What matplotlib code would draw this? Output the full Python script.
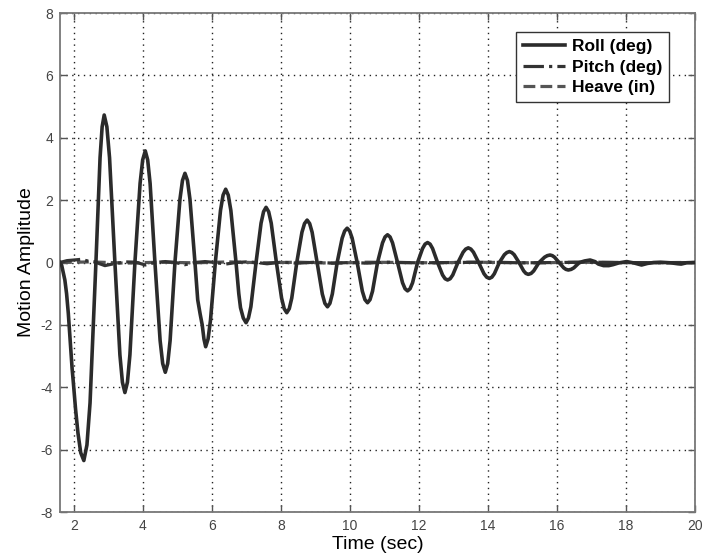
import matplotlib
matplotlib.use('Agg')
import matplotlib.pyplot as plt

plt.rcParams['font.family'] = ['Liberation Sans', 'DejaVu Sans']
plt.rcParams['axes.unicode_minus'] = False

# roll (deg)
roll_t = [1.60, 1.65, 1.70, 1.74, 1.79, 1.84, 1.90, 1.95, 1.98, 2.05, 2.12, 2.20, 2.29,
          2.38, 2.47, 2.64,
          2.76, 2.82, 2.88, 2.958, 3.035, 3.19,
          3.335, 3.408, 3.48, 3.553, 3.625, 3.77,
          3.92, 3.995, 4.07, 4.14, 4.21, 4.35,
          4.50, 4.575, 4.65, 4.72, 4.79, 4.93,
          5.075, 5.148, 5.22, 5.293, 5.365, 5.51,
          5.59, 5.66, 5.72, 5.77, 5.82, 5.89, 5.96, 6.10,
          6.25, 6.325, 6.40, 6.475, 6.55, 6.70,
          6.78, 6.83, 6.91, 6.99, 7.06, 7.13, 7.28,
          7.425, 7.498, 7.57, 7.645, 7.72, 7.87,
          8.02, 8.095, 8.17, 8.243, 8.315, 8.46,
          8.61, 8.685, 8.76, 8.833, 8.905, 9.05,
          9.20, 9.275, 9.35, 9.42, 9.49, 9.63,
          9.775, 9.848, 9.92, 9.993, 10.065, 10.21,
          10.36, 10.435, 10.51, 10.583, 10.655, 10.80,
          10.945, 11.018, 11.09, 11.163, 11.235, 11.38,
          11.525, 11.598, 11.67, 11.743, 11.815, 11.96,
          12.105, 12.178, 12.25, 12.323, 12.395, 12.54,
          12.685, 12.758, 12.83, 12.905, 12.98, 13.13,
          13.28, 13.355, 13.43, 13.505, 13.58, 13.73,
          13.885, 13.963, 14.04, 14.113, 14.185, 14.33,
          14.475, 14.548, 14.62, 14.69, 14.76, 14.90,
          15.035, 15.10, 15.17, 15.25, 15.325, 15.48,
          15.64, 15.72, 15.80, 15.865, 15.93, 16.06,
          16.195, 16.26, 16.33, 16.41, 16.49, 16.65,
          16.80, 16.96, 17.10, 17.20, 17.35, 17.50, 17.62, 17.80, 18.02, 18.25,
          18.45, 18.62, 18.80, 19.00, 19.30, 19.50, 19.60, 19.75, 20.00]
roll_v = [0.0, -0.10, -0.35, -0.56, -1.00, -1.63, -2.60, -3.40, -3.77, -4.70, -5.47, -6.10, -6.35,
          -5.85, -4.50, 0.0,
          3.36, 4.35, 4.73, 4.35, 3.36, 0.0,
          -2.96, -3.84, -4.17, -3.84, -2.96, 0.0,
          2.54, 3.29, 3.58, 3.29, 2.54, 0.0,
          -2.50, -3.24, -3.52, -3.24, -2.50, 0.0,
          2.03, 2.63, 2.86, 2.63, 2.03, 0.0,
          -1.20, -1.65, -2.00, -2.45, -2.70, -2.45, -1.85, 0.0,
          1.67, 2.16, 2.35, 2.16, 1.67, 0.0,
          -1.00, -1.45, -1.78, -1.93, -1.78, -1.42, 0.0,
          1.26, 1.63, 1.77, 1.63, 1.26, 0.0,
          -1.14, -1.48, -1.61, -1.48, -1.14, 0.0,
          0.97, 1.25, 1.36, 1.25, 0.97, 0.0,
          -1.01, -1.31, -1.42, -1.31, -1.01, 0.0,
          0.78, 1.01, 1.10, 1.01, 0.78, 0.0,
          -0.92, -1.19, -1.29, -1.19, -0.92, 0.0,
          0.63, 0.82, 0.89, 0.82, 0.63, 0.0,
          -0.65, -0.84, -0.91, -0.84, -0.65, 0.0,
          0.45, 0.59, 0.64, 0.59, 0.45, 0.0,
          -0.40, -0.52, -0.56, -0.52, -0.40, 0.0,
          0.33, 0.43, 0.47, 0.43, 0.33, 0.0,
          -0.36, -0.47, -0.51, -0.47, -0.36, 0.0,
          0.25, 0.32, 0.35, 0.32, 0.25, 0.0,
          -0.27, -0.35, -0.38, -0.35, -0.27, 0.0,
          0.17, 0.22, 0.24, 0.22, 0.17, 0.0,
          -0.17, -0.22, -0.24, -0.22, -0.17, 0.0,
          0.05, 0.08, 0.03, -0.05, -0.10, -0.10, -0.07, -0.01, 0.03, -0.02,
          -0.08, -0.03, 0.0, 0.01, -0.01, -0.04, -0.05, -0.01, 0.0]

# pitch (deg)
pitch_t = [1.6, 1.8, 2.0, 2.2, 2.4, 2.6, 2.9, 3.2, 3.5, 3.8, 4.07, 4.35, 4.65, 4.95, 5.22,
           5.5, 5.8, 6.1, 6.4, 6.7, 7.0, 7.3, 7.6, 8.0, 8.5, 9.0, 9.5, 10.0, 10.5, 11.0,
           11.5, 12.0, 13.0, 14.0, 15.0, 16.0, 17.0, 18.0, 19.0, 20.0]
pitch_v = [0.0, 0.06, 0.08, 0.10, 0.05, 0.02, -0.10, -0.03, 0.02, 0.01, -0.08, 0.0, 0.03, 0.0, -0.07,
           0.0, 0.03, 0.0, -0.05, 0.0, 0.02, 0.0, -0.04, 0.01, -0.02, 0.01, -0.02, 0.0, -0.02, 0.01,
           0.0, -0.01, 0.0, 0.01, -0.01, 0.0, 0.01, 0.0, -0.01, 0.0]

# heave (in)
heave_t = [1.6, 2.5, 3.5, 4.5, 5.5, 6.5, 7.5, 8.5, 9.5, 10.5, 11.5, 12.5, 13.5, 14.5,
           15.5, 16.5, 17.5, 18.5, 19.5, 20.0]
heave_v = [0.0, 0.02, -0.02, 0.01, -0.01, 0.02, -0.01, 0.01, -0.02, 0.01, 0.0, -0.01,
           0.01, 0.0, -0.01, 0.01, 0.0, -0.01, 0.0, 0.0]

fig = plt.figure(figsize=(7.18, 5.54), dpi=100)
ax = fig.add_axes([0.0836, 0.0758, 0.8844, 0.9007])

ax.plot(heave_t, heave_v, color='#555555', lw=2.3, ls='--', label='Heave (in)', zorder=3)
ax.plot(pitch_t, pitch_v, color='#333333', lw=2.3, ls='-.', label='Pitch (deg)', zorder=3)
ax.plot(roll_t, roll_v, color='#2b2b2b', lw=2.6, ls='-', label='Roll (deg)', zorder=4)

ax.set_xlim(1.6, 20)
ax.set_ylim(-8, 8)
ax.set_xticks(range(2, 21, 2))
ax.set_yticks(range(-8, 9, 2))
ax.grid(True, color='#222222', lw=1.0, dashes=(1.0, 3.2))
ax.tick_params(direction='in', top=True, right=True, length=5, width=1,
               labelsize=10, labelcolor='#444444', color='#555555', pad=5)
for s in ax.spines.values():
    s.set_color('#777777')
    s.set_linewidth(1.3)

ax.set_xlabel('Time (sec)', fontsize=14, labelpad=2)
ax.set_ylabel('Motion Amplitude', fontsize=14, labelpad=4)

h, l = ax.get_legend_handles_labels()
order = [2, 1, 0]
leg = ax.legend([h[i] for i in order], [l[i] for i in order],
                loc='upper right', bbox_to_anchor=(0.959, 0.962), borderaxespad=0,
                prop={'weight': 'bold', 'size': 12.5}, handlelength=2.4, handletextpad=0.4,
                labelspacing=0.32, borderpad=0.4, fancybox=False, framealpha=1,
                edgecolor='#333333')
leg.get_frame().set_linewidth(1.0)

plt.savefig('out.png', dpi=100)
plt.close()
